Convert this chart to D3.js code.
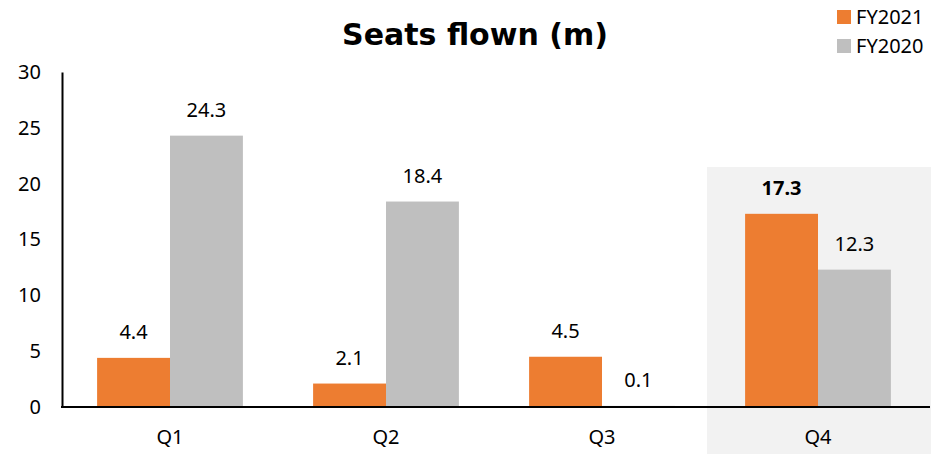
<!DOCTYPE html>
<html><head><meta charset="utf-8">
<script src="https://cdn.jsdelivr.net/npm/d3@7"></script>
<style>body{margin:0;background:#fff}svg{display:block}</style>
</head><body><svg id="c" width="932" height="454"></svg>
<script>
const categories = ["Q1","Q2","Q3","Q4"];
const seriesNames = ["FY2021","FY2020"];
const fy2021 = [4.4, 2.1, 4.5, 17.3];
const fy2020 = [24.3, 18.4, 0.1, 12.3];
const yTicks = [0,5,10,15,20,25,30];
const colors = ["#ED7D31","#BFBFBF"];
const highlight = "Q4";

const svg = d3.select("#c");
const font = "'Noto Sans', 'Liberation Sans', sans-serif";
const x0 = d3.scaleBand().domain(categories).range([62,926]).paddingInner(0.325).paddingOuter(0.1625);
const x1 = d3.scaleBand().domain(seriesNames).range([0,x0.bandwidth()]);
const y = d3.scaleLinear().domain([0,30]).range([407,72]);

// highlight background
svg.append("rect").attr("x", x0(highlight)-x0.step()*x0.paddingInner()/2 - 3).attr("y",167)
  .attr("width", x0.step()+8).attr("height",454-167).attr("fill","#f2f2f2");

const data = categories.map((c,i)=>({cat:c, vals:[fy2021[i], fy2020[i]]}));
const g = svg.selectAll("g.grp").data(data).join("g").attr("transform", d=>`translate(${x0(d.cat)},0)`);
g.selectAll("rect").data(d=>d.vals.map((v,j)=>({v, s:seriesNames[j], j, cat:d.cat})))
  .join("rect").attr("x", d=>x1(d.s)).attr("width", x1.bandwidth())
  .attr("y", d=>y(d.v)).attr("height", d=>y(0)-y(d.v)).attr("fill", d=>colors[d.j]);
g.selectAll("text").data(d=>d.vals.map((v,j)=>({v, s:seriesNames[j], j, cat:d.cat})))
  .join("text").attr("x", d=>x1(d.s)+x1.bandwidth()/2).attr("y", d=>y(d.v)-19)
  .attr("text-anchor","middle").attr("font-family",font).attr("font-size",20)
  .attr("font-weight", d=>(d.cat===highlight && d.j===0)?"bold":"normal")
  .attr("fill","#000").text(d=>d.v.toFixed(1));

// y axis
const ya = svg.append("g").attr("transform","translate(62,0)")
  .call(d3.axisLeft(y).tickValues(yTicks).tickSize(0).tickPadding(21));
ya.select(".domain").attr("stroke","#000").attr("stroke-width",2);
ya.selectAll("text").attr("font-family",font).attr("font-size",20).attr("fill","#000");

// x axis
const xa = svg.append("g").attr("transform","translate(0,407)")
  .call(d3.axisBottom(x0).tickSize(0).tickPadding(23));
xa.select(".domain").attr("d","M61,0H930").attr("stroke","#000").attr("stroke-width",2);
xa.selectAll("text").attr("font-family",font).attr("font-size",20).attr("fill","#000");

// title
svg.append("text").attr("x",475).attr("y",45).attr("text-anchor","middle")
  .attr("font-family","'DejaVu Sans', sans-serif").attr("font-weight","bold").attr("font-size",30)
  .attr("fill","#000").text("Seats flown (m)");

// legend
const lg = svg.selectAll("g.lg").data(seriesNames).join("g").attr("transform",(d,i)=>`translate(837,${10+i*29})`);
lg.append("rect").attr("width",14).attr("height",14).attr("fill",(d,i)=>colors[i]);
lg.append("text").attr("x",19).attr("y",7).attr("dy","0.36em").attr("font-family",font).attr("font-size",20).attr("fill","#000").text(d=>d);
</script></body></html>
